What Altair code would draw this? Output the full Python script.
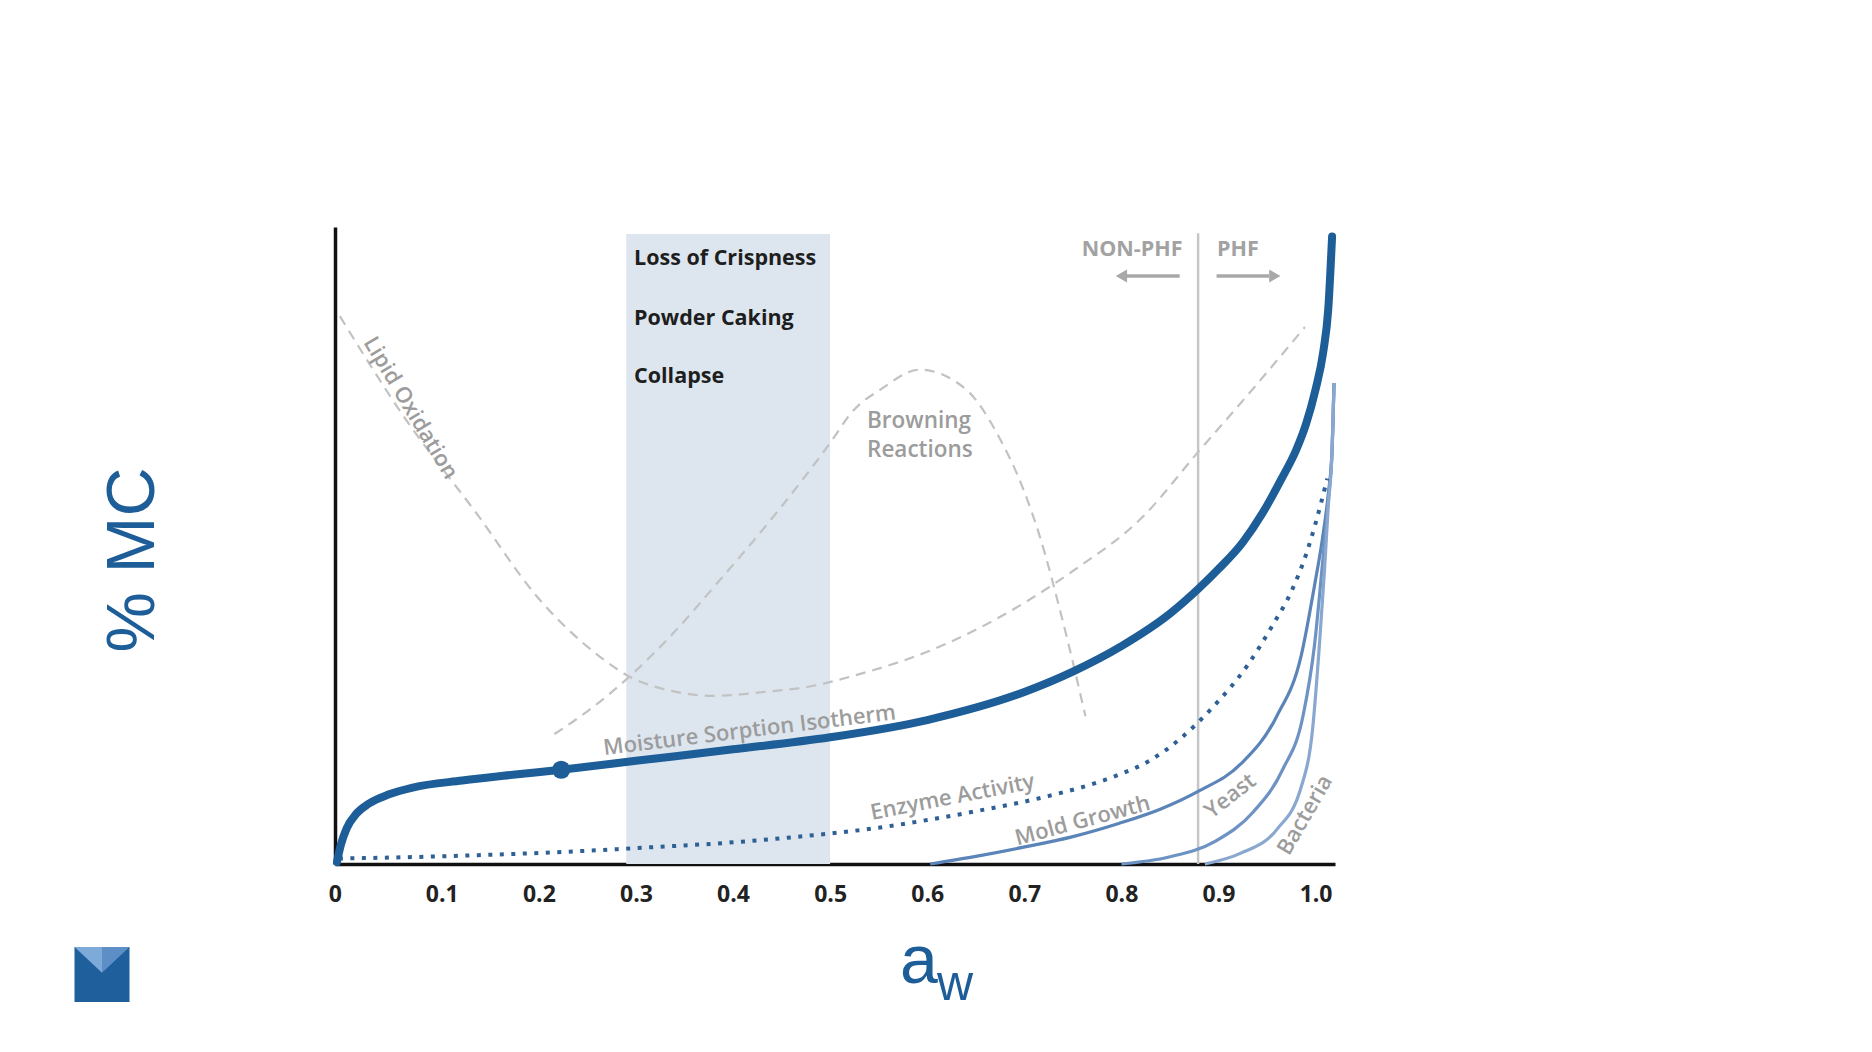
import altair as alt
import pandas as pd

# ---------------- data ----------------
tick_values = [0, 0.1, 0.2, 0.3, 0.4, 0.5, 0.6, 0.7, 0.8, 0.9, 1.0]

iso_aw = [-0.008, -0.004, 0.002, 0.012, 0.025, 0.045, 0.07, 0.121, 0.173, 0.223, 0.3, 0.4, 0.5,
          0.6, 0.7, 0.75, 0.8, 0.85, 0.88, 0.9, 0.925, 0.945, 0.965, 0.98, 0.99, 1.0, 1.008, 1.013, 1.017]
iso_mc = [0.3, 3.0, 5.6, 7.9, 9.5, 10.9, 12.0, 13.1, 14.0, 14.8, 16.2, 18.0, 19.9,
          22.6, 27.0, 30.2, 34.2, 39.3, 43.3, 46.3, 50.5, 55.0, 60.5, 65.0, 69.0, 74.5, 80.5, 87.0, 98.5]

dot_aw = [0.223]
dot_mc = [14.8]

enz_aw = [-0.006, 0.121, 0.252, 0.3, 0.4, 0.5, 0.55, 0.6, 0.654, 0.723, 0.79, 0.83, 0.86,
          0.894, 0.929, 0.955, 0.976, 0.99, 1.0, 1.012]
enz_mc = [0.85, 1.3, 2.1, 2.5, 3.4, 4.8, 5.7, 6.9, 8.4, 10.6, 13.6, 16.3, 19.6,
          24.6, 31.0, 37.3, 43.1, 48.5, 53.5, 60.5]

mold_aw = [0.603, 0.65, 0.698, 0.75, 0.798, 0.84, 0.879, 0.923, 0.96, 0.985, 0.999, 1.007, 1.013, 1.017, 1.019]
mold_mc = [0.0, 1.2, 2.6, 4.3, 6.4, 8.6, 11.4, 15.7, 23.2, 32.6, 43.8, 51.0, 58.0, 65.0, 75.5]

yeast_aw = [0.8, 0.849, 0.897, 0.936, 0.966, 0.987, 0.999, 1.007, 1.013, 1.017, 1.019]
yeast_mc = [0.0, 1.1, 3.6, 8.2, 14.8, 23.2, 34.5, 47.0, 57.0, 65.0, 75.5]

bact_aw = [0.886, 0.923, 0.96, 0.985, 0.997, 1.004, 1.009, 1.013, 1.017, 1.019]
bact_mc = [0.0, 1.7, 5.4, 12.0, 21.3, 34.5, 45.7, 56.0, 65.0, 75.5]

lipid_aw = [-0.005, 0.062, 0.136, 0.198, 0.259, 0.296, 0.333, 0.382, 0.431, 0.48, 0.53,
            0.603, 0.7, 0.75, 0.822, 0.878, 0.935, 0.989]
lipid_mc = [86.0, 70.0, 55.0, 42.0, 33.0, 29.2, 27.3, 26.4, 27.0, 27.9, 29.8,
            33.5, 41.0, 46.0, 54.5, 64.5, 74.5, 84.3]

brown_aw = [0.216, 0.252, 0.296, 0.34, 0.382, 0.444, 0.505, 0.52, 0.554, 0.592, 0.64,
            0.674, 0.698, 0.716, 0.739, 0.763]
brown_mc = [20.4, 24.2, 29.8, 36.5, 43.8, 55.0, 67.2, 70.5, 74.7, 77.6, 74.5,
            67.0, 59.2, 51.4, 38.5, 23.2]

band_x = [0.29]
band_x2 = [0.50]
band_top = [98.9]

phf_x = [0.879]
phf_top = [99.0]

band_labels = ["Loss of Crispness", "Powder Caking", "Collapse"]
band_label_aw = [0.298, 0.298, 0.298]
band_label_mc = [95.0, 85.6, 76.5]

phf_labels = ["NON-PHF", "PHF"]
phf_label_aw = [0.811, 0.92]
phf_label_mc = [96.4, 96.4]

arrow_start = [0.86, 0.898]
arrow_end = [0.805, 0.952]
arrow_head = [0.80, 0.958]
arrow_shape = ["triangle-left", "triangle-right"]
arrow_mc = [92.3, 92.3]

curve_labels = ["Lipid Oxidation", "Moisture Sorption Isotherm", "Enzyme Activity",
                "Mold Growth", "Yeast", "Bacteria"]
curve_label_aw = [0.068, 0.417, 0.626, 0.76, 0.912, 0.989]
curve_label_mc = [71.6, 21.0, 10.5, 6.8, 10.7, 7.7]
curve_label_angle = [59, 353, 349, 345, 322, 300]

brown_label = ["Browning", "Reactions"]
brown_label_aw = [0.538, 0.538]
brown_label_mc = [69.5, 65.0]

# ---------------- styling ----------------
ISO = "#1d5d98"
ENZ = "#2e5f95"
GRAY_TXT = "#9c9c9c"
DASH = "#c2c2c2"
FONT = "Open Sans"

xscale = alt.Scale(domain=[-0.01, 1.02], nice=False, zero=False)
yscale = alt.Scale(domain=[0, 100], nice=False, zero=False)

xaxis = alt.Axis(values=tick_values, title=None, grid=False, ticks=False,
                 domainColor="#111111", domainWidth=3.5,
                 labelExpr="datum.value == 0 ? '0' : format(datum.value, '.1f')",
                 labelFont=FONT, labelFontSize=23, labelFontWeight="bold",
                 labelColor="#222222", labelPadding=19,
                 labelOffset={"condition": {"test": "datum.value == 0", "value": -10}, "value": 0})
yaxis = alt.Axis(values=[], title=None, grid=False, ticks=False, labels=False,
                 domainColor="#111111", domainWidth=3.5)


def X(field="aw"):
    return alt.X(f"{field}:Q", scale=xscale, axis=xaxis)


def Y(field="mc"):
    return alt.Y(f"{field}:Q", scale=yscale, axis=yaxis)


def df(aw, mc, **extra):
    d = {"aw": aw, "mc": mc}
    d.update(extra)
    return pd.DataFrame(d)


band = alt.Chart(pd.DataFrame({"aw": band_x, "aw2": band_x2, "mc": [0.0], "mc2": band_top})).mark_rect(
    color="#dde6ef").encode(x=X(), x2="aw2:Q", y=Y(), y2="mc2:Q")

phf_rule = alt.Chart(pd.DataFrame({"aw": phf_x, "mc": [0.0], "mc2": phf_top})).mark_rule(
    color="#c6c6c6", strokeWidth=2.5).encode(x=X(), y=Y(), y2="mc2:Q")

lipid = alt.Chart(df(lipid_aw, lipid_mc)).mark_line(
    color=DASH, strokeWidth=2.2, strokeDash=[10, 7], interpolate="monotone").encode(x=X(), y=Y())
brown = alt.Chart(df(brown_aw, brown_mc)).mark_line(
    color=DASH, strokeWidth=2.2, strokeDash=[10, 7], interpolate="monotone").encode(x=X(), y=Y())

mold = alt.Chart(df(mold_aw, mold_mc)).mark_line(
    color="#5b84b8", strokeWidth=3.2, interpolate="monotone").encode(x=X(), y=Y())
yeast = alt.Chart(df(yeast_aw, yeast_mc)).mark_line(
    color="#6d92c4", strokeWidth=3.2, interpolate="monotone").encode(x=X(), y=Y())
bact = alt.Chart(df(bact_aw, bact_mc)).mark_line(
    color="#8aa7d0", strokeWidth=3.2, interpolate="monotone").encode(x=X(), y=Y())

enz = alt.Chart(df(enz_aw, enz_mc)).mark_line(
    color=ENZ, strokeWidth=4, strokeDash=[4, 7.5], interpolate="monotone").encode(x=X(), y=Y())

iso = alt.Chart(df(iso_aw, iso_mc)).mark_line(
    color=ISO, strokeWidth=8, interpolate="monotone", strokeCap="round").encode(x=X(), y=Y())

dot = alt.Chart(df(dot_aw, dot_mc)).mark_circle(color=ISO, size=330, opacity=1).encode(x=X(), y=Y())

band_text = alt.Chart(df(band_label_aw, band_label_mc, label=band_labels)).mark_text(
    align="left", baseline="middle", font=FONT, fontSize=21.5, fontWeight="bold", color="#1e1e1e").encode(
    x=X(), y=Y(), text="label:N")

phf_text = alt.Chart(df(phf_label_aw, phf_label_mc, label=phf_labels)).mark_text(
    align="center", baseline="middle", font=FONT, fontSize=21.5, fontWeight="bold", color="#a2a2a2").encode(
    x=X(), y=Y(), text="label:N")

arrow_shaft = alt.Chart(pd.DataFrame({"aw": arrow_start, "aw2": arrow_end, "mc": arrow_mc})).mark_rule(
    color="#a8a8a8", strokeWidth=3.5).encode(x=X(), x2="aw2:Q", y=Y())
arrow_tip = alt.Chart(pd.DataFrame({"aw": arrow_head, "mc": arrow_mc, "shape": arrow_shape})).mark_point(
    filled=True, color="#a8a8a8", size=170, opacity=1).encode(
    x=X(), y=Y(), shape=alt.Shape("shape:N", scale=None, legend=None))

curve_text = alt.Chart(df(curve_label_aw, curve_label_mc, label=curve_labels, angle=curve_label_angle)).mark_text(
    align="center", baseline="middle", font=FONT, fontSize=22, fontWeight=600, color=GRAY_TXT).encode(
    x=X(), y=Y(), text="label:N", angle=alt.Angle("angle:Q", scale=None))

brown_text = alt.Chart(df(brown_label_aw, brown_label_mc, label=brown_label)).mark_text(
    align="left", baseline="middle", font=FONT, fontSize=22.5, fontWeight=600, color=GRAY_TXT).encode(
    x=X(), y=Y(), text="label:N")

one = pd.DataFrame({"k": [0]})
ytitle = alt.Chart(one).mark_text(
    text="% MC", angle=270, align="center", baseline="middle", font="Liberation Sans",
    fontSize=68, color=ISO).encode(x=alt.value(-201), y=alt.value(333))
xtitle_a = alt.Chart(one).mark_text(
    text="a", align="left", baseline="alphabetic", font="Liberation Sans",
    fontSize=68, color=ISO).encode(x=alt.value(565), y=alt.value(756))
xtitle_w = alt.Chart(one).mark_text(
    text="w", align="left", baseline="alphabetic", font="Liberation Sans",
    fontSize=50, color=ISO).encode(x=alt.value(602), y=alt.value(773))

logo_sq = alt.Chart(one).mark_point(
    shape="square", filled=True, size=3025, color="#1f5f9c", opacity=1).encode(
    x=alt.value(-233), y=alt.value(747.5))
logo_l = alt.Chart(one).mark_point(
    shape="M-1,-1L0,-1L0,-0.06Z", filled=True, size=3025, color="#7eaad9", opacity=1).encode(
    x=alt.value(-233), y=alt.value(747.5))
logo_r = alt.Chart(one).mark_point(
    shape="M0,-1L1,-1L0,-0.06Z", filled=True, size=3025, color="#5d8fc6", opacity=1).encode(
    x=alt.value(-233), y=alt.value(747.5))

chart = alt.layer(
    band, phf_rule, lipid, brown, mold, yeast, bact, enz, iso, dot,
    band_text, phf_text, arrow_shaft, arrow_tip, curve_text, brown_text,
    ytitle, xtitle_a, xtitle_w, logo_sq, logo_l, logo_r
).properties(
    width=1000, height=637,
    autosize=alt.AutoSizeParams(type="none"),
    padding={"left": 327, "top": 219, "right": 420, "bottom": 160},
).configure(background="white", view=alt.ViewConfig(stroke=None))

chart.save("out.html", embed_options={"renderer": "svg", "actions": False})
